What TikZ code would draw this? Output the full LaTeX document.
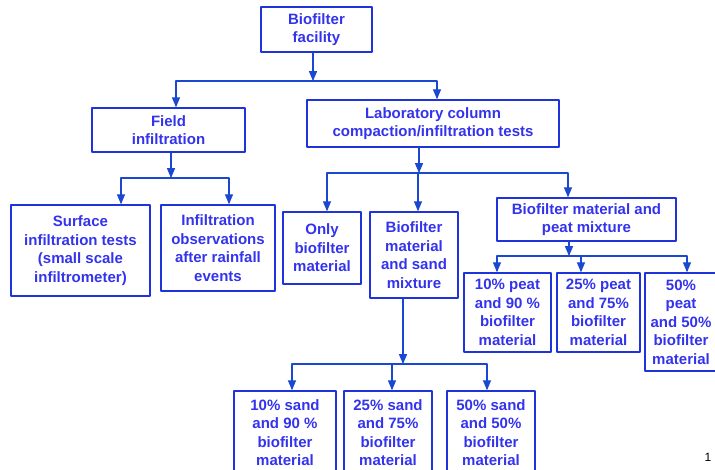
\documentclass[tikz,border=0pt]{standalone}
\usepackage{fontspec}
\setmainfont{Liberation Sans}
\usetikzlibrary{arrows}
\definecolor{boxblue}{RGB}{31,51,221}
\definecolor{txtblue}{RGB}{51,51,238}
\definecolor{lineblue}{RGB}{26,72,208}

\begin{document}
\begin{tikzpicture}[line cap=round,line join=round,>=triangle 45,x=1.0pt,y=-1.0pt,
  box/.style={draw=boxblue,line width=1.6pt,text=txtblue,align=center,inner sep=0pt,
    font=\fontsize{15}{18.5}\selectfont\bfseries},
  link/.style={->,draw=lineblue,line width=1.3pt}]
\useasboundingbox (0,0) rectangle (715,470);
% boxes
\node[box,minimum width=111pt,minimum height=45pt] (fac) at (316.5,29.5) {Biofilter\\facility};
\node[box,minimum width=153pt,minimum height=44pt] (field) at (168.5,130) {Field\\infiltration};
\node[box,minimum width=252pt,minimum height=47pt] (lab) at (433,123.5) {Laboratory column\\compaction/infiltration tests};
\node[box,minimum width=139pt,minimum height=91pt] (surf) at (80.5,250.5) {Surface\\infiltration tests\\(small scale\\infiltrometer)};
\node[box,minimum width=114pt,minimum height=86pt] (obs) at (218,248) {Infiltration\\observations\\after rainfall\\events};
\node[box,minimum width=78pt,minimum height=72pt] (only) at (322,248) {Only\\biofilter\\material};
\node[box,minimum width=88pt,minimum height=86pt] (sand) at (414,255) {Biofilter\\material\\and sand\\mixture};
\node[box,minimum width=179pt,minimum height=43pt] (peat) at (586.5,219.5) {Biofilter material and\\peat mixture};
\node[box,minimum width=87pt,minimum height=79pt] (p10) at (507.5,312.5) {10\% peat\\and 90 \%\\biofilter\\material};
\node[box,minimum width=83pt,minimum height=79pt] (p25) at (598.5,312.5) {25\% peat\\and 75\%\\biofilter\\material};
\node[box,minimum width=72pt,minimum height=98pt] (p50) at (681,322) {50\%\\peat\\and 50\%\\biofilter\\material};
\node[box,minimum width=102pt,minimum height=83pt] (s10) at (285,432.5) {10\% sand\\and 90 \%\\biofilter\\material};
\node[box,minimum width=88pt,minimum height=83pt] (s25) at (388,432.5) {25\% sand\\and 75\%\\biofilter\\material};
\node[box,minimum width=88pt,minimum height=83pt] (s50) at (491,432.5) {50\% sand\\and 50\%\\biofilter\\material};
\node[font=\fontsize{12}{14}\selectfont] (pg) at (708,457) {1};
% junctions
\coordinate (j1) at (313,81);
\coordinate (j2) at (171,178);
\coordinate (j3) at (419,173);
\coordinate (j4) at (569,256);
\coordinate (j5) at (403,364);
% connectors
\draw[link] (fac.south -| j1) -- (j1);
\draw[link] (j1) -| ([xshift=7.5pt]field.north);
\draw[link] (j1) -| ([xshift=4pt]lab.north);
\draw[link] (field.south -| j2) -- (j2);
\draw[link] (j2) -| ([xshift=40.5pt]surf.north);
\draw[link] (j2) -| ([xshift=11pt]obs.north);
\draw[link] (lab.south -| j3) -- (j3);
\draw[link] (j3) -| ([xshift=5pt]only.north);
\draw[link] (j3) -| ([xshift=4pt]sand.north);
\draw[link] (j3) -| ([xshift=-18.5pt]peat.north);
\draw[link] (peat.south -| j4) -- (j4);
\draw[link] (j4) -| ([xshift=-10.5pt]p10.north);
\draw[link] (j4) -| ([xshift=-17.5pt]p25.north);
\draw[link] (j4) -| ([xshift=6pt]p50.north);
\draw[link] (sand.south -| j5) -- (j5);
\draw[link] (j5) -| ([xshift=7pt]s10.north);
\draw[link] (j5) -| ([xshift=4pt]s25.north);
\draw[link] (j5) -| ([xshift=-4pt]s50.north);
\end{tikzpicture}
\end{document}
